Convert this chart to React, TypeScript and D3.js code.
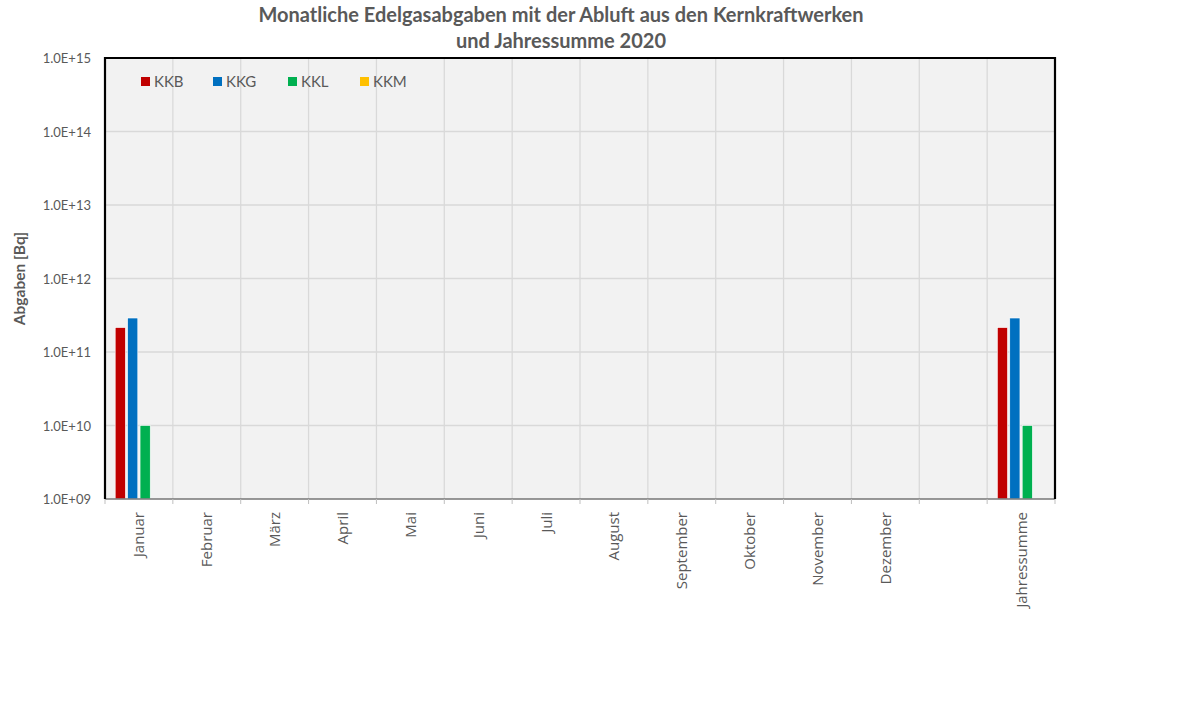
import React, { useRef, useEffect } from 'react';
import * as d3 from 'd3';

// Kategorien (leerer Slot zwischen Dezember und Jahressumme)
const categories = ['Januar', 'Februar', 'März', 'April', 'Mai', 'Juni', 'Juli', 'August',
  'September', 'Oktober', 'November', 'Dezember', '', 'Jahressumme'];
const seriesNames = ['KKB', 'KKG', 'KKL', 'KKM'];
const seriesColors = ['#c00000', '#0070c0', '#00b050', '#ffc000'];
// Werte in Bq, null = keine Abgabe / kein Balken
const kkb = [2.15e11, null, null, null, null, null, null, null, null, null, null, null, null, 2.15e11];
const kkg = [2.9e11, null, null, null, null, null, null, null, null, null, null, null, null, 2.9e11];
const kkl = [1.0e10, null, null, null, null, null, null, null, null, null, null, null, null, 1.0e10];
const kkm = [null, null, null, null, null, null, null, null, null, null, null, null, null, null];
const yTicks = [1e9, 1e10, 1e11, 1e12, 1e13, 1e14, 1e15];

const App: React.FC = () => {
  const svgRef = useRef<SVGSVGElement>(null);

  const width = 1200;
  const height = 707;
  const left = 105;
  const right = 1055;
  const top = 58;
  const bottom = 499;
  const font = 'Lato, "Open Sans", sans-serif';
  const labelFont = '"Open Sans", Lato, sans-serif';
  const grey = '#595959';

  useEffect(() => {
    if (!svgRef.current) return;
    const svg = d3.select(svgRef.current);
    svg.selectAll('*').remove();

    const x = d3.scaleBand<number>()
      .domain(d3.range(categories.length))
      .range([left, right])
      .paddingInner(0)
      .paddingOuter(0);

    const xs = d3.scaleBand<string>()
      .domain(seriesNames)
      .range([0, x.bandwidth()])
      .paddingInner(0.18)
      .paddingOuter(0.82);

    const y = d3.scaleLog()
      .domain([1e9, 1e15])
      .range([bottom, top]);

    // Hintergrund
    svg.append('rect')
      .attr('x', left).attr('y', top)
      .attr('width', right - left).attr('height', bottom - top)
      .attr('fill', '#f2f2f2');

    // horizontale Gitterlinien
    svg.append('g')
      .selectAll('line')
      .data(yTicks.slice(1))
      .join('line')
      .attr('x1', left).attr('x2', right)
      .attr('y1', d => y(d)).attr('y2', d => y(d))
      .attr('stroke', '#d9d9d9').attr('stroke-width', 1.3);

    // vertikale Gitterlinien
    svg.append('g')
      .selectAll('line')
      .data(d3.range(1, categories.length))
      .join('line')
      .attr('x1', d => x(d)!).attr('x2', d => x(d)!)
      .attr('y1', top).attr('y2', bottom)
      .attr('stroke', '#d9d9d9').attr('stroke-width', 1.3);

    // Balken
    const series = [kkb, kkg, kkl, kkm];
    series.forEach((vals, si) => {
      svg.append('g')
        .selectAll('rect')
        .data(vals.map((v, i) => ({ v, i })).filter(d => d.v != null))
        .join('rect')
        .attr('x', d => x(d.i)! + xs(seriesNames[si])!)
        .attr('y', d => y(d.v as number))
        .attr('width', xs.bandwidth())
        .attr('height', d => bottom - y(d.v as number))
        .attr('fill', seriesColors[si])
        .attr('stroke', '#ffffff')
        .attr('stroke-width', 0.6);
    });

    // x-Achse
    svg.append('line')
      .attr('x1', left).attr('x2', right)
      .attr('y1', bottom).attr('y2', bottom)
      .attr('stroke', '#767676').attr('stroke-width', 1.3);
    svg.append('g')
      .selectAll('line')
      .data(d3.range(0, categories.length + 1))
      .join('line')
      .attr('x1', d => left + d * x.bandwidth()).attr('x2', d => left + d * x.bandwidth())
      .attr('y1', bottom).attr('y2', bottom + 5)
      .attr('stroke', '#bfbfbf').attr('stroke-width', 1);

    // Rahmen
    svg.append('path')
      .attr('d', `M${left},${bottom}V${top}H${right}V${bottom}`)
      .attr('fill', 'none')
      .attr('stroke', '#000000')
      .attr('stroke-width', 2.2);

    // x-Beschriftung
    svg.append('g')
      .selectAll('text')
      .data(categories)
      .join('text')
      .attr('transform', (_, i) => `translate(${x(i)! + x.bandwidth() / 2 + 5.5},${bottom + 13}) rotate(-90)`)
      .attr('text-anchor', 'end')
      .attr('font-family', labelFont)
      .attr('font-size', 15)
      .attr('fill', grey)
      .text(d => d);

    // y-Beschriftung
    svg.append('g')
      .selectAll('text')
      .data(yTicks)
      .join('text')
      .attr('x', 91)
      .attr('y', d => y(d) + 5)
      .attr('text-anchor', 'end')
      .attr('font-family', font)
      .attr('font-size', 13)
      .attr('fill', grey)
      .text(d => d.toExponential(1).toUpperCase().replace(/E\+(\d)$/, 'E+0$1'));

    // y-Achsentitel
    svg.append('text')
      .attr('transform', `translate(25,${(top + bottom) / 2}) rotate(-90)`)
      .attr('text-anchor', 'middle')
      .attr('font-family', font)
      .attr('font-size', 15.5)
      .attr('font-weight', 'bold')
      .attr('fill', grey)
      .text('Abgaben [Bq]');

    // Titel
    const title = svg.append('text')
      .attr('text-anchor', 'middle')
      .attr('font-family', font)
      .attr('font-size', 20)
      .attr('font-weight', 'bold')
      .attr('fill', grey);
    title.append('tspan').attr('x', 561).attr('y', 22).text('Monatliche Edelgasabgaben mit der Abluft aus den Kernkraftwerken');
    title.append('tspan').attr('x', 561).attr('y', 48).text('und Jahressumme 2020');

    // Legende
    const legendX = [141, 213, 288, 360];
    const lg = svg.append('g')
      .selectAll('g')
      .data(seriesNames)
      .join('g')
      .attr('transform', (_, i) => `translate(${legendX[i]},77)`);
    lg.append('rect')
      .attr('width', 9).attr('height', 9)
      .attr('fill', (_, i) => seriesColors[i]);
    lg.append('text')
      .attr('x', 13).attr('y', 10)
      .attr('font-family', font)
      .attr('font-size', 15)
      .attr('fill', grey)
      .text(d => d);
  }, []);

  return (
    <svg ref={svgRef} width={width} height={height} style={{ position: 'absolute', left: 0, top: 0 }} />
  );
};

export default App;
